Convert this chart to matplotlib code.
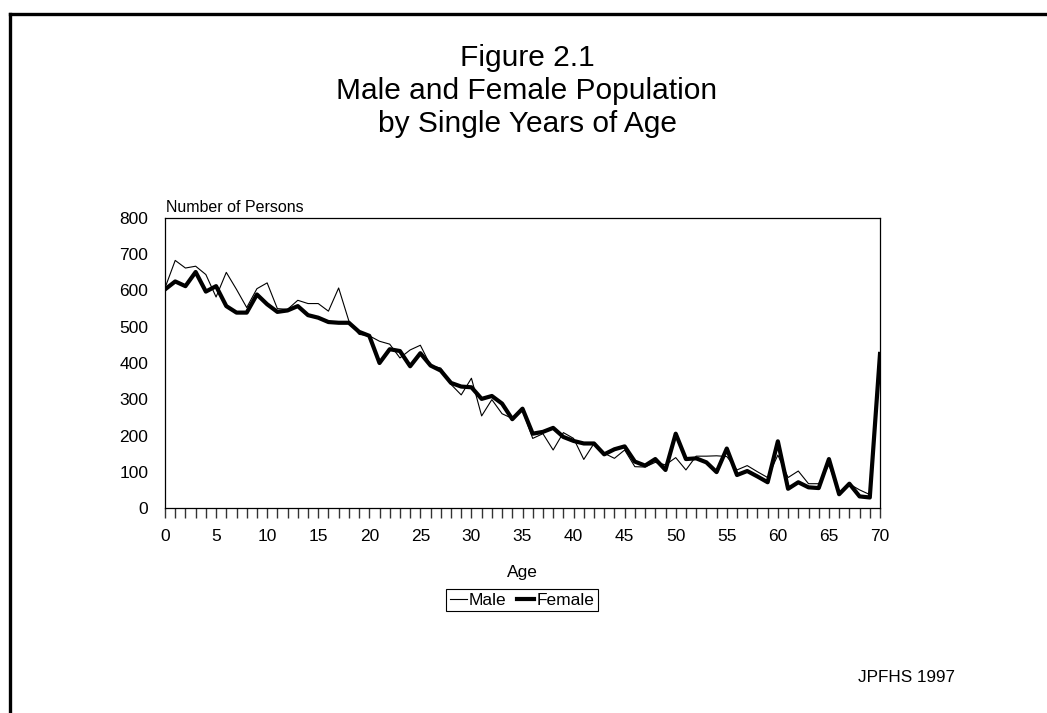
import numpy as np
import matplotlib
matplotlib.use('Agg')
import matplotlib.pyplot as plt
from matplotlib.lines import Line2D

plt.rcParams['font.family'] = ['Liberation Sans', 'DejaVu Sans']

# Single years of age 0..70 (70 = 70+)
ages = list(range(0, 71))

male = [607, 683, 662, 667, 644, 582, 650, 603, 553, 605,
        621, 550, 548, 573, 564, 564, 543, 607, 516, 479,
        475, 460, 452, 414, 436, 449, 393, 386, 341, 312,
        358, 254, 299, 260, 247, 269, 192, 205, 160, 208,
        192, 134, 178, 151, 137, 160, 114, 113, 126, 119,
        139, 105, 143, 143, 144, 142, 105, 117, 100, 84,
        146, 84, 102, 67, 67, 119, 41, 66, 50, 37,
        425]

female = [603, 625, 612, 651, 597, 612, 557, 539, 539, 589,
          562, 541, 545, 557, 532, 525, 513, 511, 511, 486,
          475, 400, 438, 433, 391, 427, 393, 379, 345, 335,
          333, 301, 309, 288, 245, 274, 205, 210, 221, 196,
          185, 178, 178, 148, 162, 170, 128, 117, 135, 105,
          205, 135, 137, 126, 99, 164, 91, 102, 87, 71,
          184, 53, 71, 57, 55, 135, 38, 67, 32, 29,
          425]

W, H = 1047, 713
fig = plt.figure(figsize=(W / 100, H / 100), dpi=100)

# plot area in pixels: x 165..880, y 218..508
ax = fig.add_axes([165 / W, 1 - 508 / H, (880 - 165) / W, (508 - 218) / H])

ax.plot(ages, male, color='black', lw=0.8, label='Male')
ax.plot(ages, female, color='black', lw=3.0, label='Female')

ax.set_xlim(0, 70)
ax.set_ylim(0, 800)
ax.set_yticks(range(0, 801, 100))
ax.set_xticks(range(0, 71))
ax.set_xticklabels([str(a) if a % 5 == 0 else '' for a in ages])
ax.tick_params(axis='x', direction='out', length=7, width=1, pad=8,
               labelsize=12.5, color='#333333')
ax.tick_params(axis='y', length=0, pad=12, labelsize=12.5)
for s in ax.spines.values():
    s.set_linewidth(0.9)
    s.set_color('black')

fig.text(166 / W, 1 - 208 / H, 'Number of Persons', fontsize=11.5,
         ha='left', va='center')
fig.text(522 / W, 1 - 572 / H, 'Age', fontsize=12.5, ha='center', va='center')

fig.text(527 / W, 1 - 91 / H,
         'Figure 2.1\nMale and Female Population\nby Single Years of Age',
         fontsize=21.5, ha='center', va='center', linespacing=1.25)

fig.text(906 / W, 1 - 678 / H, 'JPFHS 1997', fontsize=12.3,
         ha='center', va='center')

leg = fig.legend(loc='center', bbox_to_anchor=(522 / W, 1 - 600 / H), ncol=2,
                 fontsize=12.5, frameon=True, fancybox=False, framealpha=1,
                 edgecolor='black', handlelength=1.0, handletextpad=0.1,
                 columnspacing=0.6, borderpad=0.2, borderaxespad=0)
leg.get_frame().set_linewidth(0.8)

# page frame (left and top edges)
fig.add_artist(Line2D([10 / W, 10 / W], [0, 1 - 13.5 / H], transform=fig.transFigure,
                      color='black', lw=2.4, solid_capstyle='projecting'))
fig.add_artist(Line2D([10 / W, 1], [1 - 13.5 / H, 1 - 13.5 / H], transform=fig.transFigure,
                      color='black', lw=2.4, solid_capstyle='projecting'))

fig.savefig('out.png', dpi=100)
